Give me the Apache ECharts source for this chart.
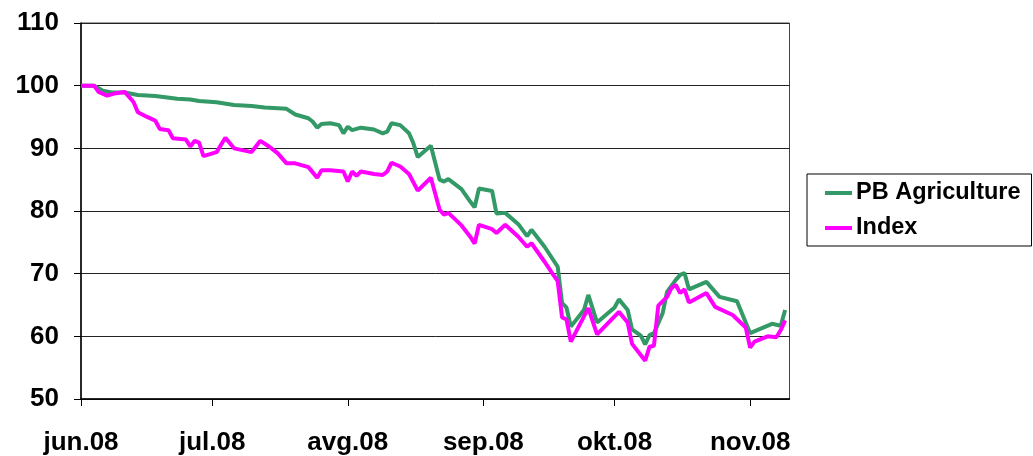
<!DOCTYPE html>
<html>
<head>
<meta charset="utf-8">
<script src="https://cdn.jsdelivr.net/npm/echarts@6/dist/echarts.min.js"></script>
<style>
html,body{margin:0;padding:0;background:#fff;}
#chart{width:1033px;height:456px;}
</style>
</head>
<body>
<div id="chart"></div>
<script>
// x = days since 1 June 2008
var monthLabels = ['jun.08','jul.08','avg.08','sep.08','okt.08','nov.08'];
var monthDays = [0,30,61,92,122,153];
var yTicks = [50,60,70,80,90,100,110];

var agriDays = [0,3,5,7,10,13,17,22,25,27,31,35,39,42,47,49,52,53,54,55,57,59,60,61,62,64,67,69,70,71,73,75,76,77,80,82,83,84,87,89,90,91,94,95,97,100,102,103,106,109,110,111,112,115,116,118,120,122,123,125,126,128,129,130,131,133,134,136,137,138,139,143,146,150,153,158,160,161];
var agriValues = [100,100,99.2,98.9,98.9,98.5,98.35,97.9,97.8,97.55,97.35,96.9,96.75,96.5,96.3,95.4,94.8,94.25,93.3,93.9,94.0,93.7,92.4,93.45,92.9,93.3,93.0,92.4,92.65,94.0,93.7,92.4,90.8,88.6,90.4,85.0,84.7,85.1,83.5,81.5,80.6,83.6,83.2,79.6,79.7,77.9,76.0,77.0,74.3,71.1,65.3,64.6,61.55,64.2,66.6,62.2,63.4,64.6,65.9,64.2,61.1,60.1,58.7,60.2,60.5,63.7,67.1,69.0,69.8,70.1,67.5,68.7,66.3,65.6,60.5,62.0,61.7,64.2];

var indexDays = [0,3,4,6,8,10,12,13,15,17,18,20,21,24,25,26,27,28,31,33,35,39,41,43,45,47,49,52,54,55,57,60,61,62,63,64,67,69,70,71,73,75,77,80,82,83,84,87,89,90,91,94,95,97,100,102,103,106,108,109,110,111,112,116,118,123,125,126,129,130,131,132,134,135,136,137,138,139,143,145,149,152,153,154,157,159,160,161];
var indexValues = [100,100,99.0,98.4,98.8,99.0,97.4,95.75,95.05,94.4,93.1,92.9,91.6,91.4,90.3,91.2,90.9,88.75,89.4,91.7,90.0,89.4,91.2,90.3,89.2,87.6,87.6,87.0,85.3,86.5,86.5,86.3,84.7,86.3,85.6,86.3,85.9,85.75,86.3,87.7,87.1,85.9,83.25,85.3,80.2,79.4,79.7,77.7,75.9,74.8,77.8,77.1,76.5,77.8,75.9,74.3,74.85,71.9,69.8,68.8,63.0,62.7,59.15,64.5,60.3,63.9,62.2,58.8,56.1,58.35,58.5,64.9,66.3,67.7,68.2,66.9,67.5,65.4,66.9,64.7,63.4,61.4,58.2,59.15,60.0,59.85,61.0,62.55];

function pairs(xs, ys){ return xs.map(function(x,i){ return [x, ys[i]]; }); }

var font = 'Liberation Sans, Arial, sans-serif';
var chart = echarts.init(document.getElementById('chart'), null, {renderer:'canvas'});
chart.setOption({
  animation:false,
  backgroundColor:'#fff',
  grid:{left:81, right:243.5, top:23, bottom:57, show:true, borderColor:'#444', borderWidth:1, backgroundColor:'transparent'},
  legend:{
    orient:'vertical', left:807, top:174,
    padding:[7,11,6,18],
    borderColor:'#000', borderWidth:1,
    itemWidth:27, itemHeight:4, itemGap:11, icon:'rect',
    textStyle:{fontFamily:font, fontWeight:'bold', fontSize:23.5, color:'#000', padding:[0,0,0,-1]},
    data:['PB Agriculture','Index']
  },
  xAxis:{
    type:'value', min:0, max:162,
    axisLine:{show:true, lineStyle:{color:'#000', width:1.5}},
    axisTick:{show:true, inside:false, length:7, customValues:monthDays, lineStyle:{color:'#000'}},
    axisLabel:{customValues:monthDays, margin:31, fontFamily:font, fontWeight:'bold', fontSize:26, color:'#000',
      formatter:function(v){ var i = monthDays.indexOf(v); return i>=0 ? monthLabels[i] : ''; }},
    splitLine:{show:false}
  },
  yAxis:{
    type:'value', min:50, max:110, interval:10,
    axisLine:{show:true, lineStyle:{color:'#000', width:1.5}},
    axisTick:{show:true, length:7, lineStyle:{color:'#000'}},
    axisLabel:{margin:22, fontFamily:font, fontWeight:'bold', fontSize:26, color:'#000',
      formatter:function(v){ return yTicks.indexOf(v)>=0 ? String(v) : ''; }},
    splitLine:{show:true, lineStyle:{color:'#222', width:1}}
  },
  series:[
    {name:'PB Agriculture', type:'line', data:pairs(agriDays, agriValues), showSymbol:false, symbol:'none',
     lineStyle:{color:'#339966', width:4}, itemStyle:{color:'#339966'}},
    {name:'Index', type:'line', data:pairs(indexDays, indexValues), showSymbol:false, symbol:'none',
     lineStyle:{color:'#ff00ff', width:4}, itemStyle:{color:'#ff00ff'}}
  ]
});
</script>
</body>
</html>
